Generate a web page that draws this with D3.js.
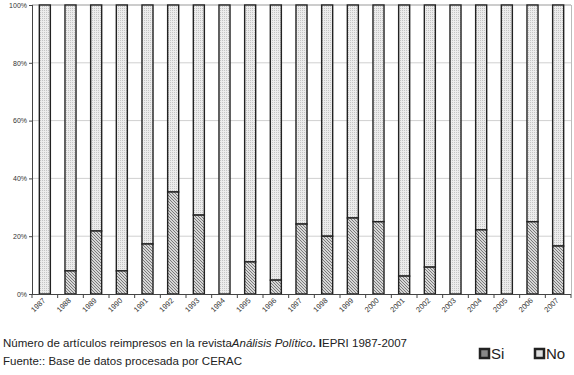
<!DOCTYPE html>
<html>
<head>
<meta charset="utf-8">
<script src="https://cdn.jsdelivr.net/npm/d3@7"></script>
<style>
  body { margin: 0; background: #fff; }
  svg { display: block; font-family: "Liberation Sans", Arial, sans-serif; }
</style>
</head>
<body>
<div id="chart"></div>
<script>
// años y porcentaje de artículos reimpresos (Si); No = 100 - Si
const years = ["1987", "1988", "1989", "1990", "1991", "1992", "1993", "1994", "1995", "1996", "1997",
  "1998", "1999", "2000", "2001", "2002", "2003", "2004", "2005", "2006", "2007"];
const siValues = [0, 8, 21.8, 8, 17.3, 35.3, 27.3, 0, 11.1, 4.8, 24.2, 20, 26.3, 25, 6.2, 9.3, 0, 22.2, 0, 25, 16.6];
const yTicks = [0, 20, 40, 60, 80, 100];
const legendLabels = ["Si", "No"];

const width = 574, height = 375;
const margin = { top: 5, right: 3, bottom: 81, left: 32 };

const svg = d3.select('#chart')
  .append('svg')
  .attr('width', width)
  .attr('height', height);

const defs = svg.append('defs');

// rayado diagonal para "Si"
const hatch = defs.append('pattern')
  .attr('id', 'hatch')
  .attr('patternUnits', 'userSpaceOnUse')
  .attr('width', 3)
  .attr('height', 3);
hatch.append('rect').attr('width', 3).attr('height', 3).attr('fill', '#d6d6d6');
hatch.append('path')
  .attr('d', 'M-1,-1 L4,4 M-1,2 L1,4 M2,-1 L4,1')
  .attr('stroke', '#6e6e6e')
  .attr('stroke-width', 0.9);

// punteado para "No"
const dots = defs.append('pattern')
  .attr('id', 'dots')
  .attr('patternUnits', 'userSpaceOnUse')
  .attr('width', 2)
  .attr('height', 2);
dots.append('rect').attr('width', 2).attr('height', 2).attr('fill', '#ececec');
dots.append('rect').attr('width', 1).attr('height', 1).attr('fill', '#c4c4c4');

const x = d3.scaleBand()
  .domain(years)
  .range([margin.left, width - margin.right])
  .paddingInner(0.57)
  .paddingOuter(0.285);

const y = d3.scaleLinear()
  .domain([0, 100])
  .range([height - margin.bottom, margin.top]);

// cuadrícula
svg.append('g')
  .selectAll('line')
  .data(yTicks.filter(d => d > 0))
  .enter()
  .append('line')
  .attr('x1', margin.left)
  .attr('x2', width - margin.right)
  .attr('y1', d => y(d))
  .attr('y2', d => y(d))
  .attr('stroke', d => d === 100 ? '#999' : '#d0d0d0')
  .attr('stroke-width', 1);

svg.append('line')
  .attr('x1', width - margin.right + 0.5)
  .attr('x2', width - margin.right + 0.5)
  .attr('y1', y(100))
  .attr('y2', y(0))
  .attr('stroke', '#bbb');

const data = years.map((yr, i) => ({ year: yr, si: siValues[i], no: 100 - siValues[i] }));

const bars = svg.append('g');

// segmento "No" (arriba)
bars.selectAll('.no')
  .data(data)
  .enter()
  .append('rect')
  .attr('class', 'no')
  .attr('x', d => x(d.year))
  .attr('width', x.bandwidth())
  .attr('y', d => y(100))
  .attr('height', d => y(d.si) - y(100))
  .attr('fill', 'url(#dots)')
  .attr('stroke', '#222')
  .attr('stroke-width', 1.4);

// segmento "Si" (abajo)
bars.selectAll('.si')
  .data(data.filter(d => d.si > 0))
  .enter()
  .append('rect')
  .attr('class', 'si')
  .attr('x', d => x(d.year))
  .attr('width', x.bandwidth())
  .attr('y', d => y(d.si))
  .attr('height', d => y(0) - y(d.si))
  .attr('fill', 'url(#hatch)')
  .attr('stroke', '#222')
  .attr('stroke-width', 1.4);

// eje Y
const yAxis = d3.axisLeft(y)
  .tickValues(yTicks)
  .tickFormat(d => d + '%')
  .tickSize(3)
  .tickPadding(2);

const gy = svg.append('g')
  .attr('transform', `translate(${margin.left},0)`)
  .call(yAxis);
gy.select('.domain').attr('stroke', '#444').attr('d', `M0.5,${y(100)}V${y(0)}`);
gy.selectAll('.tick line').attr('stroke', '#444');
gy.selectAll('.tick text').attr('font-size', 7).attr('fill', '#333');

// eje X
svg.append('line')
  .attr('x1', margin.left)
  .attr('x2', width - margin.right)
  .attr('y1', y(0) + 0.5)
  .attr('y2', y(0) + 0.5)
  .attr('stroke', '#444');

const step = x.step();
svg.append('g')
  .selectAll('line')
  .data(years.concat(['end']))
  .enter()
  .append('line')
  .attr('x1', (d, i) => x(years[0]) - x.paddingOuter() * step + i * step)
  .attr('x2', (d, i) => x(years[0]) - x.paddingOuter() * step + i * step)
  .attr('y1', y(0))
  .attr('y2', y(0) + 4)
  .attr('stroke', '#444');

svg.append('g')
  .selectAll('text')
  .data(years)
  .enter()
  .append('text')
  .attr('transform', d => `translate(${x(d) + x.bandwidth() / 2 + 1},${y(0) + 7}) rotate(-45)`)
  .attr('text-anchor', 'end')
  .attr('font-size', 7.5)
  .attr('fill', '#333')
  .text(d => d);

// texto al pie
const caption = svg.append('text')
  .attr('x', 3)
  .attr('y', 347)
  .attr('font-size', 11.5)
  .attr('fill', '#222');
caption.append('tspan').text('Número de artículos reimpresos en la revista');
caption.append('tspan').attr('font-style', 'italic').text('Análisis Político');
caption.append('tspan').attr('font-weight', 'bold').text('. I');
caption.append('tspan').text('EPRI 1987-2007');

svg.append('text')
  .attr('x', 3)
  .attr('y', 365)
  .attr('font-size', 11.5)
  .attr('fill', '#222')
  .text('Fuente:: Base de datos procesada por CERAC');

// leyenda
const legend = svg.append('g')
  .selectAll('g')
  .data(legendLabels)
  .enter()
  .append('g')
  .attr('transform', (d, i) => `translate(${480 + i * 55},349)`);

legend.append('rect')
  .attr('width', 9)
  .attr('height', 9)
  .attr('fill', (d, i) => i === 0 ? '#888' : '#ddd')
  .attr('stroke', '#222')
  .attr('stroke-width', 2.5);

legend.append('text')
  .attr('x', 11)
  .attr('y', 10)
  .attr('font-size', 15)
  .attr('fill', '#222')
  .text(d => d);
</script>
</body>
</html>
